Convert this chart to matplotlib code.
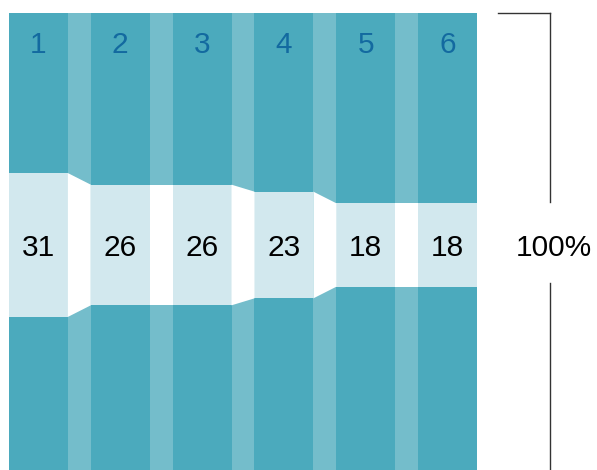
import matplotlib
matplotlib.use("Agg")
from matplotlib import pyplot as plt

# --- data ---
steps = ["1", "2", "3", "4", "5", "6"]
shares = [31, 26, 26, 23, 18, 18]   # percent of the full 100% column
total = 100

dark = "#4baabd"
gap_col = "#74bdcb"
light = "#d2e8ee"
num_col = "#136aa0"

plt.rcParams['font.family'] = ['Liberation Sans', 'DejaVu Sans']

fig = plt.figure(figsize=(5.97, 4.70), dpi=100)
# axes placed in pixels: x 9..477, y 13..477 (bottom runs just past the image)
ax = fig.add_axes([9 / 597, (470 - 477) / 470, 468 / 597, 464 / 470])

w = 0.72  # column width, one step = 1
n = len(steps)
xs = list(range(n))

# gaps between the columns
for i in range(n - 1):
    ax.axvspan(i + w, i + 1, color=gap_col, lw=0)

# full columns
ax.bar(xs, [total] * n, width=w, align="edge", color=dark, lw=0)

# middle bands
lows = [total / 2 - v / 2 for v in shares]
highs = [total / 2 + v / 2 for v in shares]
ax.bar(xs, shares, width=w, bottom=lows, align="edge", color=light, lw=0)

# white connectors between the bands
for i in range(n - 1):
    ax.fill([i + w, i + 1, i + 1, i + w],
            [lows[i], lows[i + 1], highs[i + 1], highs[i]],
            color="white", lw=0)

for i in range(n):
    ax.text(i + w / 2, 93.2, steps[i], ha="center", va="center",
            fontsize=21.5, color=num_col)
    ax.text(i + w / 2, 49.3, str(shares[i]), ha="center", va="center",
            fontsize=21.5, color="black")

ax.set_xlim(0, n - 1 + w)
ax.set_ylim(0, total)
ax.axis("off")

# bracket on the right
bx0, bx1 = 5.976, 6.61
lc = "#333333"
ax.plot([bx0, bx1], [total, total], color=lc, lw=1, clip_on=False)
ax.plot([bx1, bx1], [total, 59.3], color=lc, lw=1, clip_on=False)
ax.plot([bx1, bx1], [41.8, 0], color=lc, lw=1, clip_on=False)
ax.text(6.66, 49.3, "100%", ha="center", va="center", fontsize=21.5,
        color="black", clip_on=False)

fig.savefig("out.png", dpi=100)
